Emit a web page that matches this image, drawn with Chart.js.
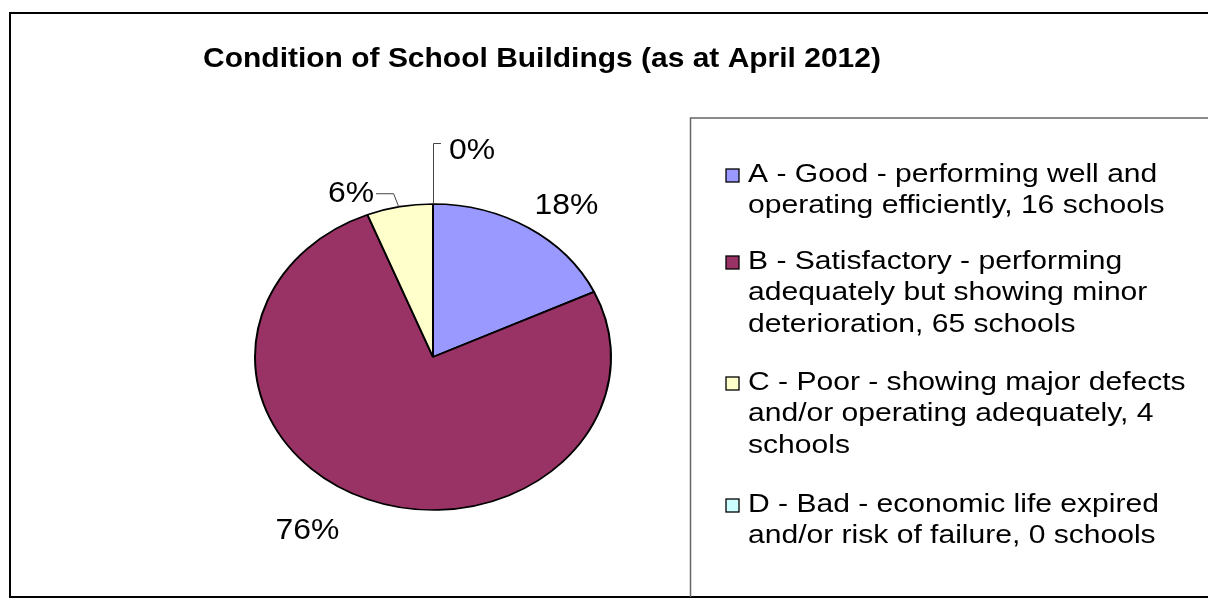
<!DOCTYPE html>
<html><head><meta charset="utf-8">
<script src="https://cdn.jsdelivr.net/npm/chart.js@4"></script>
<style>html,body{margin:0;padding:0;background:#fff;overflow:hidden}#wrap{width:1208px;height:614px}</style>
</head><body><div id="wrap"><canvas id="c" width="1208" height="614"></canvas></div>
<script>
const titleText = 'Condition of School Buildings (as at April 2012)';
const categories = [
  ['A - Good - performing well and', 'operating efficiently, 16 schools'],
  ['B - Satisfactory - performing', 'adequately but showing minor', 'deterioration, 65 schools'],
  ['C - Poor - showing major defects', 'and/or operating adequately, 4', 'schools'],
  ['D - Bad - economic life expired', 'and/or risk of failure, 0 schools']
];
const shares = [18, 76, 6, 0];
const percentLabels = ['18%', '76%', '6%', '0%'];
const colors = ['#9999FF', '#993366', '#FFFFCC', '#CCFFFF'];

const FONT = '"Liberation Sans", Arial, sans-serif';
const SX = 1.156;           // horizontal stretch of the original picture
const RY_RATIO = 153 / 178; // vertical squash of the pie

function stretchedText(ctx, txt, x, y, font, align, sx) {
  const s = sx || SX;
  ctx.save();
  ctx.font = font;
  ctx.translate(x, y);
  ctx.scale(s, 1);
  ctx.textAlign = align || 'left';
  ctx.textBaseline = 'middle';
  ctx.fillStyle = '#000';
  ctx.fillText(txt, 0, 0);
  const w = ctx.measureText(txt).width * s;
  ctx.restore();
  return w;
}

const framePlugin = {
  id: 'frame',
  beforeDraw(chart) {
    const ctx = chart.ctx;
    ctx.save();
    ctx.fillStyle = '#fff';
    ctx.fillRect(0, 0, chart.width, chart.height);
    ctx.strokeStyle = '#000';
    ctx.lineWidth = 2;
    ctx.beginPath();
    ctx.moveTo(1212, 13); ctx.lineTo(10, 13); ctx.lineTo(10, 597); ctx.lineTo(1212, 597);
    ctx.stroke();
    // title
    stretchedText(ctx, titleText, 542, 59, 'bold 27.5px ' + FONT, 'center', 1.09);
    // legend box
    ctx.strokeStyle = '#666';
    ctx.lineWidth = 1.5;
    ctx.beginPath();
    ctx.moveTo(1212, 118); ctx.lineTo(690.5, 118); ctx.lineTo(690.5, 597);
    ctx.stroke();
    ctx.restore();
  }
};

const ellipsePlugin = {
  id: 'ellipse',
  beforeDatasetsDraw(chart) {
    const arc = chart.getDatasetMeta(0).data[0];
    const ctx = chart.ctx;
    ctx.save();
    ctx.translate(arc.x, arc.y);
    ctx.scale(1, RY_RATIO);
    ctx.translate(-arc.x, -arc.y);
  },
  afterDatasetsDraw(chart) {
    chart.ctx.restore();
  }
};

const labelPlugin = {
  id: 'pieLabels',
  afterDraw(chart, args, opts) {
    const ctx = chart.ctx;
    const meta = chart.getDatasetMeta(0);
    const font = '29px ' + FONT;
    meta.data.forEach((arc, i) => {
      const rx = arc.outerRadius, ry = arc.outerRadius * RY_RATIO;
      const mid = (arc.startAngle + arc.endAngle) / 2;
      const g = opts.gap;
      const nudge = opts.nudge[i];
      const lx = arc.x + (rx + g) * Math.cos(mid) + nudge[0];
      const ly = arc.y + (ry + g) * Math.sin(mid) + nudge[1];
      const w = stretchedText(ctx, chart.data.datasets[0].percentText[i], lx, ly, font, 'center', 1.1);
      if (opts.leader[i]) {
        const ex = arc.x + rx * Math.cos(mid), ey = arc.y + ry * Math.sin(mid);
        ctx.save();
        ctx.strokeStyle = '#444';
        ctx.lineWidth = 1;
        ctx.beginPath();
        if (lx > ex) { // label to the right: vertical up then right
          ctx.moveTo(ex + 0.5, ey);
          ctx.lineTo(ex + 0.5, ly - 7.5);
          ctx.lineTo(lx - w / 2 - 8, ly - 7.5);
        } else {       // label to the left: horizontal then down to edge
          ctx.moveTo(lx + w / 2 + 2, ly - 0.5);
          ctx.lineTo(ex - 6, ly - 0.5);
          ctx.lineTo(ex - 1, ey);
        }
        ctx.stroke();
        ctx.restore();
      }
    });
  }
};

const legendPlugin = {
  id: 'customLegend',
  afterDraw(chart, args, opts) {
    const ctx = chart.ctx;
    const ds = chart.data.datasets[0];
    const font = '26px ' + FONT;
    chart.data.labels.forEach((lines, i) => {
      const top = opts.firstY + opts.itemY[i];
      ctx.save();
      ctx.fillStyle = ds.backgroundColor[i];
      ctx.strokeStyle = '#000';
      ctx.lineWidth = 1.3;
      ctx.fillRect(726, top - 6, 13, 13);
      ctx.strokeRect(726, top - 6, 13, 13);
      ctx.restore();
      lines.forEach((ln, j) => {
        stretchedText(ctx, ln, 748, top + j * opts.lineH, font, 'left');
      });
    });
  }
};

new Chart(document.getElementById('c'), {
  type: 'pie',
  data: {
    labels: categories,
    datasets: [{
      data: shares,
      percentText: percentLabels,
      backgroundColor: colors,
      borderColor: '#000',
      borderWidth: 2
    }]
  },
  options: {
    responsive: false,
    animation: false,
    devicePixelRatio: 1,
    radius: 178,
    layout: { padding: { left: 255, right: 597, top: 179, bottom: 79 } },
    plugins: {
      legend: { display: false },
      title: { display: false },
      tooltip: { enabled: false },
      pieLabels: {
        gap: 30,
        nudge: [[22, 4], [-49, 4], [-43, 17], [39, -23]],
        leader: [false, false, true, true]
      },
      customLegend: { firstY: 175, lineH: 31.3, itemY: [0, 87, 208, 330] }
    }
  },
  plugins: [framePlugin, ellipsePlugin, labelPlugin, legendPlugin]
});
</script>
</body></html>
